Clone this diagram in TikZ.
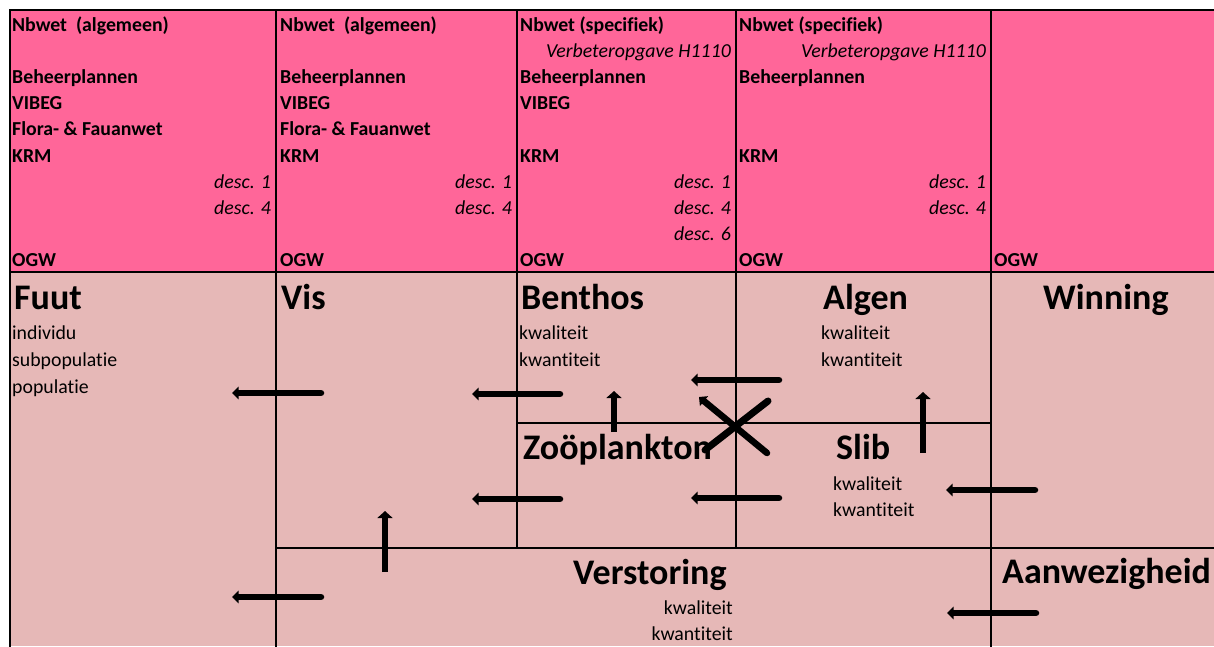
\documentclass[tikz,border=0pt]{standalone}
\usepackage{fontspec}
\setmainfont{Carlito}[Ligatures=NoCommon]
\usetikzlibrary{arrows.meta}
\definecolor{toppink}{HTML}{FF6699}
\definecolor{lowpink}{HTML}{E6B8B7}
\begin{document}
\begin{tikzpicture}[x=1pt,y=-1pt,
  hdr/.style={anchor=base west,inner sep=0pt,font=\fontsize{19.8}{23}\selectfont\bfseries},
  hdrr/.style={anchor=base east,inner sep=0pt,font=\fontsize{19.8}{23}\selectfont\itshape},
  ttl/.style={anchor=base west,inner sep=0pt,font=\fontsize{36}{40}\selectfont\bfseries},
  sub/.style={anchor=base west,inner sep=0pt,font=\fontsize{19.8}{23}\selectfont},
  subr/.style={anchor=base east,inner sep=0pt,font=\fontsize{19.8}{23}\selectfont},
  gridline/.style={line width=2pt,line cap=rect},
  arr/.style={line width=6.5pt,line cap=round,-{Triangle[width=12.5pt,length=6.5pt]}},
  varr/.style={line width=6.5pt,-{Triangle[width=15pt,length=7pt]}},
  cross/.style={line width=7pt,line cap=round}]
\useasboundingbox (0,0) rectangle (1214,646);
% backgrounds
\fill[toppink] (10,10) rectangle (1214,272);
\fill[lowpink] (10,272) rectangle (1214,646);
% grid
\draw[gridline] (10,10) -- (1214,10);
\draw[gridline] (10,10) -- (10,646);
\draw[gridline] (10,272) -- (1214,272);
\foreach \x in {276,517,736,991} \draw[gridline] (\x,10) -- (\x,272);
\draw[gridline] (276,272) -- (276,646);
\draw[gridline] (517,272) -- (517,548);
\draw[gridline] (736,272) -- (736,548);
\draw[gridline] (991,272) -- (991,646);
\draw[gridline] (517,423) -- (991,423);
\draw[gridline] (276,548) -- (1214,548);
% header column 1
\node[hdr] (c1a) at (12,31) {Nbwet~ (algemeen)};
\node[hdr] (c1b) at (12,83.4) {Beheerplannen};
\node[hdr] (c1c) at (12,109.6) {VIBEG};
\node[hdr] (c1d) at (12,135.8) {Flora- \& Fauanwet};
\node[hdr] (c1e) at (12,162) {KRM};
\node[hdrr] (c1f) at (271,188.2) {desc. 1};
\node[hdrr] (c1g) at (271,214.4) {desc. 4};
\node[hdr] (c1h) at (12,266.8) {OGW};
% header column 2
\node[hdr] (c2a) at (280,31) {Nbwet~ (algemeen)};
\node[hdr] (c2b) at (280,83.4) {Beheerplannen};
\node[hdr] (c2c) at (280,109.6) {VIBEG};
\node[hdr] (c2d) at (280,135.8) {Flora- \& Fauanwet};
\node[hdr] (c2e) at (280,162) {KRM};
\node[hdrr] (c2f) at (512,188.2) {desc. 1};
\node[hdrr] (c2g) at (512,214.4) {desc. 4};
\node[hdr] (c2h) at (280,266.8) {OGW};
% header column 3
\node[hdr] (c3a) at (520,31) {Nbwet (specifiek)};
\node[hdrr] (c3v) at (731,57.2) {Verbeteropgave H1110};
\node[hdr] (c3b) at (520,83.4) {Beheerplannen};
\node[hdr] (c3c) at (520,109.6) {VIBEG};
\node[hdr] (c3e) at (520,162) {KRM};
\node[hdrr] (c3f) at (731,188.2) {desc. 1};
\node[hdrr] (c3g) at (731,214.4) {desc. 4};
\node[hdrr] (c3i) at (731,240.6) {desc. 6};
\node[hdr] (c3h) at (520,266.8) {OGW};
% header column 4
\node[hdr] (c4a) at (739,31) {Nbwet (specifiek)};
\node[hdrr] (c4v) at (986,57.2) {Verbeteropgave H1110};
\node[hdr] (c4b) at (739,83.4) {Beheerplannen};
\node[hdr] (c4e) at (739,162) {KRM};
\node[hdrr] (c4f) at (986,188.2) {desc. 1};
\node[hdrr] (c4g) at (986,214.4) {desc. 4};
\node[hdr] (c4h) at (739,266.8) {OGW};
% header column 5
\node[hdr] (c5h) at (994,266.8) {OGW};
% lower titles
\node[ttl] (fuut) at (14,309) {Fuut};
\node[sub] (fuut1) at (12,339) {individu};
\node[sub] (fuut2) at (12,366) {subpopulatie};
\node[sub] (fuut3) at (12,393) {populatie};
\node[ttl] (vis) at (281,309) {Vis};
\node[ttl] (benthos) at (521,309) {Benthos};
\node[sub] (benthos1) at (519,339) {kwaliteit};
\node[sub] (benthos2) at (519,366) {kwantiteit};
\node[ttl] (algen) at (823,309) {Algen};
\node[sub] (algen1) at (821,339) {kwaliteit};
\node[sub] (algen2) at (821,366) {kwantiteit};
\node[ttl] (winning) at (1043,309) {Winning};
\node[ttl] (zoo) at (523,459) {Zoöplankton};
\node[ttl] (slib) at (836,459) {Slib};
\node[sub] (slib1) at (833,490) {kwaliteit};
\node[sub] (slib2) at (833,516) {kwantiteit};
\node[ttl] (verst) at (573,584) {Verstoring};
\node[subr] (verst1) at (733,614) {kwaliteit};
\node[subr] (verst2) at (733,640) {kwantiteit};
\node[ttl] (aanw) at (1002,583) {Aanwezigheid};
% arrow coordinates
\coordinate (a1s) at (321,393); \coordinate (a1e) at (232,393);
\coordinate (a2s) at (560,394); \coordinate (a2e) at (472,394);
\coordinate (a3s) at (560,499); \coordinate (a3e) at (472,499);
\coordinate (a4s) at (385,572); \coordinate (a4e) at (385,511);
\coordinate (a5s) at (321,597); \coordinate (a5e) at (232,597);
\coordinate (a6s) at (614,432); \coordinate (a6e) at (614,391);
\coordinate (a7s) at (779,380); \coordinate (a7e) at (691,380);
\coordinate (a8s) at (779,498); \coordinate (a8e) at (691,498);
\coordinate (a9s) at (923,453); \coordinate (a9e) at (923,392);
\coordinate (a10s) at (1035,490); \coordinate (a10e) at (946,490);
\coordinate (a11s) at (1036,613); \coordinate (a11e) at (947,613);
\foreach \i in {1,2,3,5,7,8,10,11} \draw[arr] (a\i s) -- (a\i e);
\foreach \i in {4,6,9} \draw[varr] (a\i s) -- (a\i e);
% cross
\coordinate (x1) at (699,397); \coordinate (x2) at (767,453);
\coordinate (x3) at (768,401); \coordinate (x4) at (705,450);
\draw[arr] (x2) -- (x1);
\draw[cross] (x3) -- (x4);
\end{tikzpicture}
\end{document}
